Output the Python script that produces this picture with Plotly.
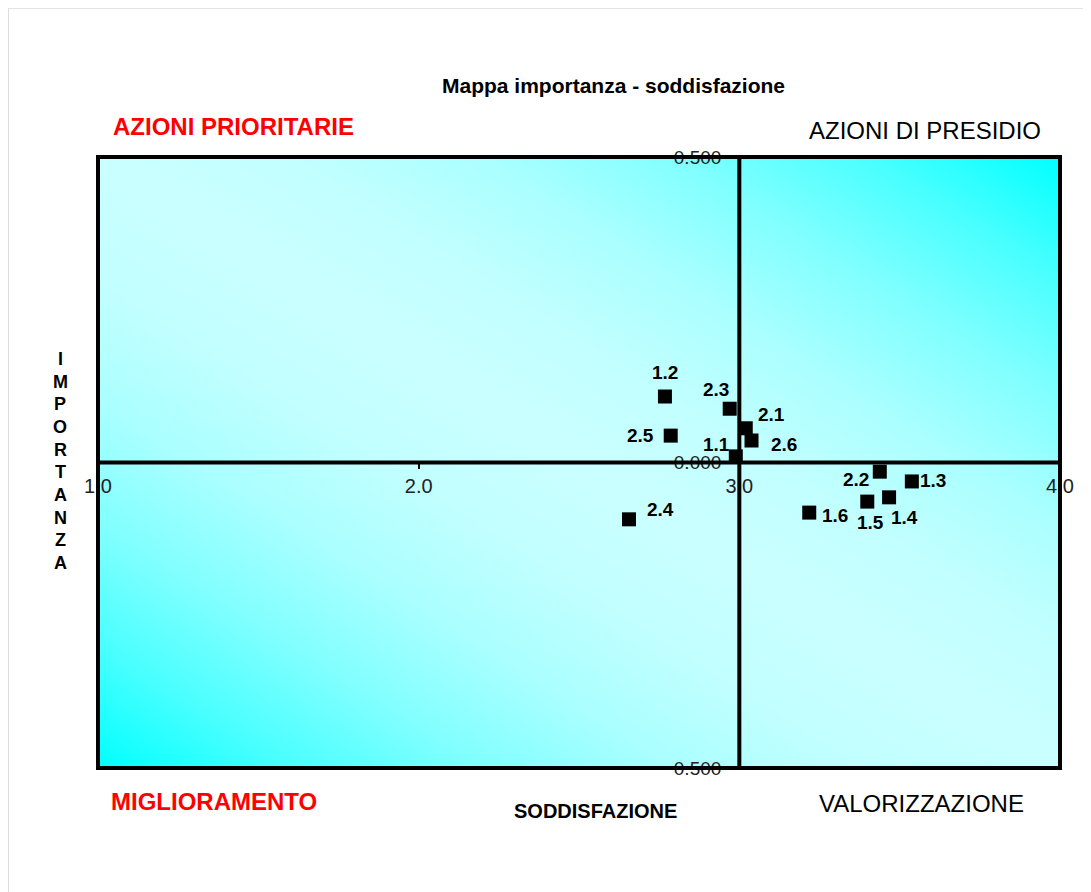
import base64
import plotly.graph_objects as go

# ---- data ----
item_labels = ["1.1", "1.2", "1.3", "1.4", "1.5", "1.6",
               "2.1", "2.2", "2.3", "2.4", "2.5", "2.6"]
soddisfazione = [2.989, 2.768, 3.538, 3.467, 3.399, 3.218,
                 3.020, 3.438, 2.970, 2.656, 2.786, 3.038]
importanza = [0.010, 0.108, -0.031, -0.057, -0.064, -0.082,
              0.056, -0.015, 0.088, -0.093, 0.044, 0.036]

x_tickvals = [1.0, 2.0, 3.0, 4.0]
x_ticktext = ["1.0", "2.0", "3.0", "4.0"]
y_tickvals = [-0.5, 0.0, 0.5]
y_ticktext = ["0.500", "0.000", "0.500"]

# label offsets (pixels) for each point label (style only)
label_dx = [-19, 0, 21, 15, 3, 26, 26, -24, -14, 31, -30, 32]
label_dy = [-12, -24, -1, 20, 21, 3, -14, 8, -19, -10, 0, 4]

FONT = "Liberation Sans, Arial, sans-serif"
OFF = 8  # page body margin
W, H = 1091 - OFF, 892 - OFF
L, R, T, B = 98 - OFF, 1060 - OFF, 157 - OFF, 768 - OFF
PW, PH = R - L, B - T


def px2paper(xp, yp):
    # xp, yp are screen pixel positions as seen in the reference
    return (xp - OFF - L) / PW, (B - (yp - OFF)) / PH


fig = go.Figure()

fig.add_trace(go.Scatter(
    x=soddisfazione, y=importanza, mode="markers",
    marker=dict(symbol="square", size=14, color="black"),
    hoverinfo="text", text=item_labels, showlegend=False,
))

annotations = []
for lab, xv, yv, dx, dy in zip(item_labels, soddisfazione, importanza, label_dx, label_dy):
    annotations.append(dict(
        x=xv, y=yv, xref="x", yref="y", text=lab, showarrow=False,
        xshift=dx, yshift=-dy,
        font=dict(family=FONT, size=19, color="black", weight="bold"),
    ))


def text_ann(txt, xp, yp, size, color="black", bold=False, xanchor="center"):
    xx, yy = px2paper(xp, yp)
    return dict(x=xx, y=yy, xref="paper", yref="paper", text=txt, showarrow=False,
                xanchor=xanchor, yanchor="middle",
                font=dict(family=FONT, size=size, color=color,
                          weight="bold" if bold else "normal"))


annotations += [
    text_ann("Mappa importanza - soddisfazione", 613, 86, 21, bold=True),
    text_ann("AZIONI PRIORITARIE", 111, 126, 24, color="#ff0000", bold=True, xanchor="left"),
    text_ann("AZIONI DI PRESIDIO", 925, 130, 24),
    text_ann("MIGLIORAMENTO", 109, 801, 24, color="#ff0000", bold=True, xanchor="left"),
    text_ann("SODDISFAZIONE", 595, 811, 20, bold=True),
    text_ann("VALORIZZAZIONE", 921, 803, 24),
]
for i, ch in enumerate("IMPORTANZA"):
    annotations.append(text_ann(ch, 60, 359 + i * 22.67, 18, bold=True))

# diagonal gradient: cyan at bottom-left / top-right corners, pale along the other diagonal
stops = [(0.0, "#00ffff"), (0.1, "#49ffff"), (0.2, "#81ffff"), (0.3, "#aaffff"),
         (0.4, "#c2ffff"), (0.5, "#caffff"), (0.6, "#c2ffff"), (0.7, "#aaffff"),
         (0.8, "#81ffff"), (0.9, "#49ffff"), (1.0, "#00ffff")]
stop_xml = "".join('<stop offset="%.2f" stop-color="%s"/>' % s for s in stops)
svg = ('<svg xmlns="http://www.w3.org/2000/svg" width="100" height="100" '
       'viewBox="0 0 100 100" preserveAspectRatio="none">'
       '<defs><linearGradient id="g" x1="0" y1="1" x2="1" y2="0">' + stop_xml +
       '</linearGradient></defs>'
       '<rect x="0" y="0" width="100" height="100" fill="url(#g)"/></svg>')
src = "data:image/svg+xml;base64," + base64.b64encode(svg.encode()).decode()

shapes = [
    dict(type="line", xref="paper", yref="paper", x0=-L / PW, x1=(W - L) / PW,
         y0=B / PH - 0.0005, y1=B / PH - 0.0005,
         line=dict(color="#dddddd", width=1), layer="below"),
    dict(type="line", xref="paper", yref="paper", x0=-L / PW + 0.0005, x1=-L / PW + 0.0005,
         y0=(B - H) / PH, y1=B / PH,
         line=dict(color="#dddddd", width=1), layer="below"),
    dict(type="rect", xref="paper", yref="paper", x0=0, x1=1, y0=0, y1=1,
         line=dict(color="black", width=4), layer="above"),
    dict(type="line", xref="x", yref="paper", x0=3.0, x1=3.0, y0=0, y1=1,
         line=dict(color="black", width=4), layer="above"),
    dict(type="line", xref="paper", yref="y", x0=0, x1=1, y0=0.0, y1=0.0,
         line=dict(color="black", width=4), layer="above"),
]

fig.update_layout(
    width=W, height=H,
    margin=dict(l=L, r=W - R, t=T, b=H - B),
    paper_bgcolor="white", plot_bgcolor="white",
    images=[dict(source=src, xref="paper", yref="paper", x=0, y=1, sizex=1, sizey=1,
                 xanchor="left", yanchor="top", sizing="stretch", layer="below")],
    shapes=shapes,
    annotations=annotations,
    xaxis=dict(range=[1, 4], showgrid=False, zeroline=False, showline=False,
               anchor="free", position=0.5,
               tickvals=x_tickvals, ticktext=x_ticktext,
               ticks="outside", ticklen=5, tickwidth=2, tickcolor="black",
               tickfont=dict(family=FONT, size=20, color="#222")),
    yaxis=dict(range=[-0.5, 0.5], showgrid=False, zeroline=False, showline=False,
               anchor="free", position=2 / 3,
               tickvals=y_tickvals, ticktext=y_ticktext,
               ticks="", ticklabelstandoff=18,
               tickfont=dict(family=FONT, size=19, color="#222")),
    showlegend=False,
)

fig.write_html("out.html")
